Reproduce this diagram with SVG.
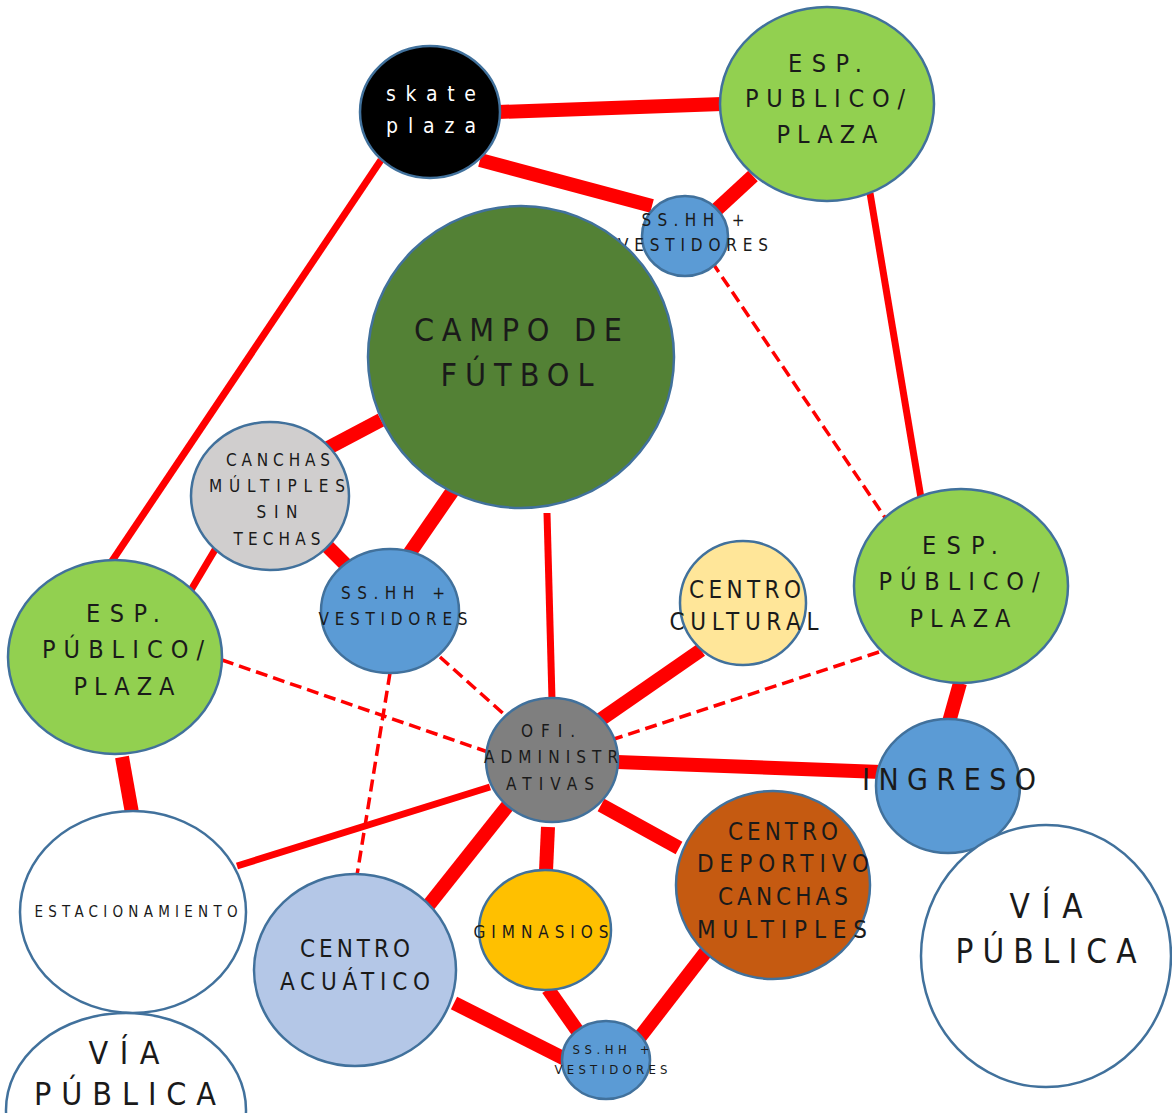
<svg xmlns="http://www.w3.org/2000/svg" width="1172" height="1113" viewBox="0 0 1172 1113">
<style>
.n{stroke:#41719c;stroke-width:2.5}
.t{font-family:"DejaVu Sans Condensed","DejaVu Sans",sans-serif;fill:#1a1a1a;text-anchor:middle}
.w{fill:#ffffff}
.c{stroke:#ff0000;fill:none;stroke-linecap:butt}
.k{stroke-width:14}
.m{stroke-width:7}
.d{stroke-width:3.5;stroke-dasharray:12 6}
</style>
<rect width="1172" height="1113" fill="#ffffff"/>
<g id="connectors">
<line class="c k" x1="498" y1="112" x2="722" y2="104"/>
<line class="c k" x1="480" y1="160" x2="652" y2="206"/>
<line class="c k" x1="753" y1="176" x2="714" y2="212"/>
<line class="c m" x1="381" y1="160" x2="110" y2="564"/>
<line class="c m" x1="870" y1="193" x2="921" y2="498"/>
<line class="c d" x1="712" y1="262" x2="886" y2="519"/>
<line class="c k" x1="381" y1="420" x2="328" y2="448"/>
<line class="c k" x1="456" y1="486" x2="407" y2="557"/>
<line class="c k" x1="327" y1="546" x2="346" y2="565"/>
<line class="c m" x1="216" y1="548" x2="191" y2="590"/>
<line class="c m" x1="547" y1="513" x2="552" y2="700"/>
<line class="c d" x1="440" y1="657" x2="506" y2="716"/>
<line class="c d" x1="390" y1="673" x2="357" y2="875"/>
<line class="c d" x1="222" y1="660" x2="488" y2="752"/>
<line class="c k" x1="701" y1="650" x2="600" y2="720"/>
<line class="c d" x1="879" y1="652" x2="614" y2="739"/>
<line class="c k" x1="617" y1="762" x2="881" y2="772"/>
<line class="c k" x1="960" y1="683" x2="949" y2="722"/>
<line class="c m" x1="490" y1="787" x2="237" y2="866"/>
<line class="c k" x1="122" y1="757" x2="132" y2="813"/>
<line class="c k" x1="509" y1="804" x2="428" y2="906"/>
<line class="c k" x1="548" y1="827" x2="546" y2="871"/>
<line class="c k" x1="601" y1="805" x2="679" y2="848"/>
<line class="c k" x1="548" y1="989" x2="581" y2="1036"/>
<line class="c k" x1="708" y1="949" x2="640" y2="1037"/>
<line class="c k" x1="454" y1="1003" x2="567" y2="1060"/>
</g>
<g id="skate-plaza">
<ellipse class="n" cx="430" cy="112" rx="70" ry="66" fill="#000000"/>
<text class="t w" x="431" y="101" font-size="21" textLength="90" lengthAdjust="spacing">skate</text>
<text class="t w" x="431" y="133" font-size="21" textLength="90" lengthAdjust="spacing">plaza</text>
</g>
<g id="esp-top">
<ellipse class="n" cx="827" cy="104" rx="107" ry="97" fill="#92d050"/>
<text class="t" x="825" y="72" font-size="25" textLength="74" lengthAdjust="spacing">ESP.</text>
<text class="t" x="825" y="107" font-size="25" textLength="160" lengthAdjust="spacing">PUBLICO/</text>
<text class="t" x="827" y="143" font-size="25" textLength="101" lengthAdjust="spacing">PLAZA</text>
</g>
<g id="sshh-top">
<ellipse class="n" cx="685" cy="236" rx="43" ry="40" fill="#5b9bd5"/>
<text class="t" x="693" y="226" font-size="17" textLength="103" lengthAdjust="spacing">SS.HH +</text>
<text class="t" x="693" y="251" font-size="17" textLength="150" lengthAdjust="spacing">VESTIDORES</text>
</g>
<g id="campo">
<ellipse class="n" cx="521" cy="357" rx="153" ry="151" fill="#538135"/>
<text class="t" x="518" y="341" font-size="32" textLength="208" lengthAdjust="spacing">CAMPO DE</text>
<text class="t" x="517" y="386" font-size="32" textLength="153" lengthAdjust="spacing">FÚTBOL</text>
</g>
<g id="canchas-sin-techas">
<ellipse class="n" cx="270" cy="496" rx="79" ry="74" fill="#d0cece"/>
<text class="t" x="278" y="466" font-size="17" textLength="104" lengthAdjust="spacing">CANCHAS</text>
<text class="t" x="277" y="492" font-size="17" textLength="136" lengthAdjust="spacing">MÚLTIPLES</text>
<text class="t" x="277" y="518" font-size="17" textLength="41" lengthAdjust="spacing">SIN</text>
<text class="t" x="277" y="545" font-size="17" textLength="87" lengthAdjust="spacing">TECHAS</text>
</g>
<g id="sshh-mid">
<ellipse class="n" cx="390" cy="611" rx="69" ry="62" fill="#5b9bd5"/>
<text class="t" x="393" y="599" font-size="17" textLength="104" lengthAdjust="spacing">SS.HH +</text>
<text class="t" x="393" y="625" font-size="17" textLength="149" lengthAdjust="spacing">VESTIDORES</text>
</g>
<g id="esp-left">
<ellipse class="n" cx="115" cy="657" rx="107" ry="97" fill="#92d050"/>
<text class="t" x="123" y="622" font-size="25" textLength="74" lengthAdjust="spacing">ESP.</text>
<text class="t" x="123" y="658" font-size="25" textLength="162" lengthAdjust="spacing">PÚBLICO/</text>
<text class="t" x="124" y="695" font-size="25" textLength="101" lengthAdjust="spacing">PLAZA</text>
</g>
<g id="centro-cultural">
<ellipse class="n" cx="743" cy="603" rx="63" ry="62" fill="#ffe699"/>
<text class="t" x="745" y="598" font-size="24" textLength="112" lengthAdjust="spacing">CENTRO</text>
<text class="t" x="744" y="630" font-size="24" textLength="149" lengthAdjust="spacing">CULTURAL</text>
</g>
<g id="esp-right">
<ellipse class="n" cx="961" cy="586" rx="107" ry="97" fill="#92d050"/>
<text class="t" x="960" y="554" font-size="25" textLength="76" lengthAdjust="spacing">ESP.</text>
<text class="t" x="959" y="590" font-size="25" textLength="161" lengthAdjust="spacing">PÚBLICO/</text>
<text class="t" x="960" y="627" font-size="25" textLength="101" lengthAdjust="spacing">PLAZA</text>
</g>
<g id="oficinas">
<ellipse class="n" cx="552" cy="760" rx="66" ry="62" fill="#7f7f7f"/>
<text class="t" x="548" y="737" font-size="17" textLength="54" lengthAdjust="spacing">OFI.</text>
<text class="t" x="551" y="763" font-size="17" textLength="134" lengthAdjust="spacing">ADMINISTR</text>
<text class="t" x="550" y="790" font-size="17" textLength="88" lengthAdjust="spacing">ATIVAS</text>
</g>
<g id="ingreso">
<ellipse class="n" cx="948" cy="786" rx="72" ry="67" fill="#5b9bd5"/>
<text class="t" x="949" y="790" font-size="30" textLength="174" lengthAdjust="spacing">INGRESO</text>
</g>
<g id="estacionamiento">
<ellipse class="n" cx="133" cy="912" rx="113" ry="101" fill="#ffffff"/>
<text class="t" x="136" y="917" font-size="15" textLength="203" lengthAdjust="spacing">ESTACIONAMIENTO</text>
</g>
<g id="centro-acuatico">
<ellipse class="n" cx="355" cy="970" rx="101" ry="96" fill="#b4c7e7"/>
<text class="t" x="355" y="957" font-size="24" textLength="110" lengthAdjust="spacing">CENTRO</text>
<text class="t" x="355" y="990" font-size="24" textLength="150" lengthAdjust="spacing">ACUÁTICO</text>
</g>
<g id="gimnasios">
<ellipse class="n" cx="545" cy="930" rx="66" ry="60" fill="#ffc000"/>
<text class="t" x="541" y="938" font-size="17" textLength="135" lengthAdjust="spacing">GIMNASIOS</text>
</g>
<g id="centro-deportivo">
<ellipse class="n" cx="773" cy="885" rx="97" ry="94" fill="#c55a11"/>
<text class="t" x="783" y="840" font-size="24" textLength="110" lengthAdjust="spacing">CENTRO</text>
<text class="t" x="783" y="872" font-size="24" textLength="172" lengthAdjust="spacing">DEPORTIVO</text>
<text class="t" x="783" y="905" font-size="24" textLength="130" lengthAdjust="spacing">CANCHAS</text>
<text class="t" x="782" y="938" font-size="24" textLength="170" lengthAdjust="spacing">MULTIPLES</text>
</g>
<g id="sshh-bottom">
<ellipse class="n" cx="606" cy="1060" rx="44" ry="39" fill="#5b9bd5"/>
<text class="t" x="611" y="1054" font-size="13" textLength="77" lengthAdjust="spacing">SS.HH +</text>
<text class="t" x="611" y="1074" font-size="13" textLength="113" lengthAdjust="spacing">VESTIDORES</text>
</g>
<g id="via-publica-right">
<ellipse class="n" cx="1046" cy="956" rx="125" ry="131" fill="#ffffff"/>
<text class="t" x="1046" y="918" font-size="33" textLength="73" lengthAdjust="spacing">VÍA</text>
<text class="t" x="1046" y="963" font-size="33" textLength="181" lengthAdjust="spacing">PÚBLICA</text>
</g>
<g id="via-publica-left">
<ellipse class="n" cx="126" cy="1110" rx="120" ry="97" fill="#ffffff"/>
<text class="t" x="124" y="1064" font-size="32" textLength="71" lengthAdjust="spacing">VÍA</text>
<text class="t" x="125" y="1105" font-size="32" textLength="182" lengthAdjust="spacing">PÚBLICA</text>
</g>
</svg>
